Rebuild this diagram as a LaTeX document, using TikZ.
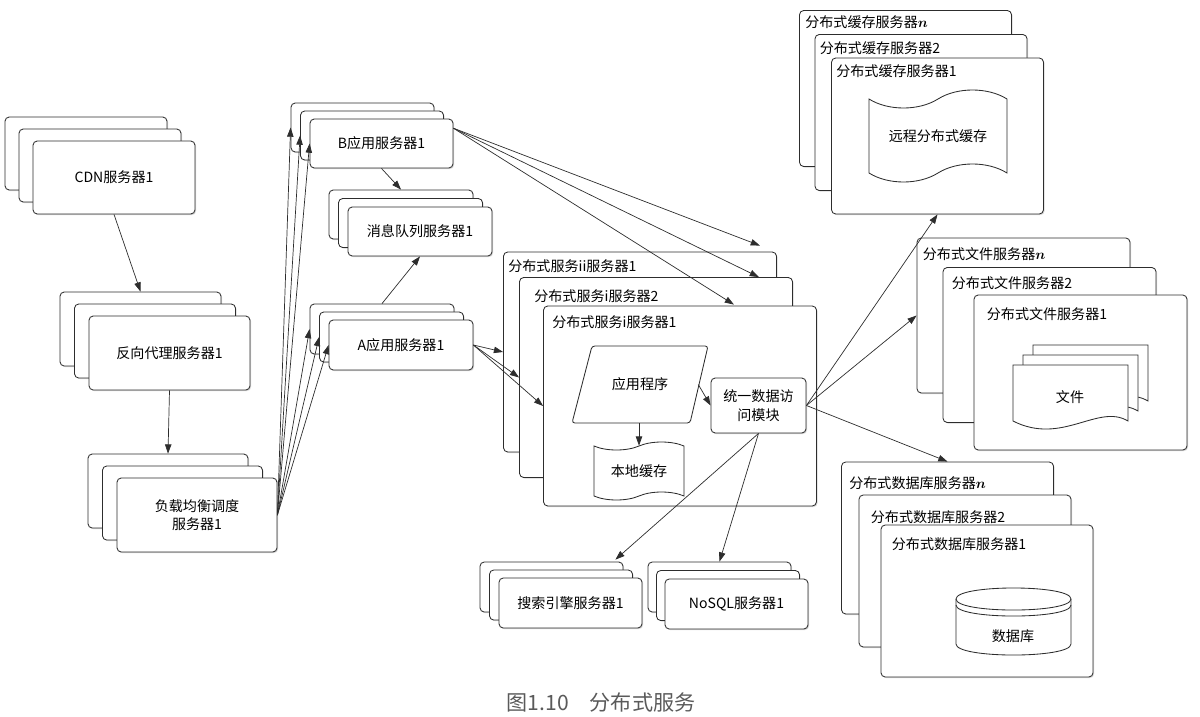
\documentclass[tikz,border=0pt]{standalone}
\usepackage{fontspec}
\setmainfont{Noto Sans CJK SC}
\usetikzlibrary{arrows.meta,positioning,calc,shapes.symbols,shadows}
\definecolor{LineGray}{RGB}{45,45,45}
\definecolor{CapGray}{RGB}{90,90,90}
\newcommand{\srvn}{{\boldmath$n$}}

\tikzset{
  srv/.style={draw=LineGray, fill=white, rounded corners=3pt, inner sep=0pt, line width=0.6pt,
    drop shadow={shadow xshift=0.8pt, shadow yshift=-0.8pt, opacity=0.3},
    font=\fontsize{10}{13}\selectfont, align=center},
  box/.style 2 args={srv, minimum width=#1*0.025cm, minimum height=#2*0.025cm},
  ttl/.style={anchor=west, inner sep=0pt, font=\fontsize{10}{12}\selectfont},
  tapebox/.style={tape, draw=LineGray, fill=white, line width=0.6pt, inner sep=0pt,
    tape bend top=in and out, tape bend bottom=in and out, font=\fontsize{10}{12}\selectfont},
  shp/.style={draw=LineGray, fill=white, line width=0.6pt},
  arr/.style={-{Triangle[length=2.3mm,width=1.6mm]}, line width=0.5pt, LineGray},
}

\begin{document}
\begin{tikzpicture}[x=0.025cm, y=-0.025cm]
\useasboundingbox (0,0) rectangle (1200,716);

% left column
\foreach \k in {2,1}
  \node[box={162}{73}] (cdn\k) at (114-14*\k,177.5-12*\k) {};
\node[box={162}{73}] (cdn) at (114,177.5) {CDN服务器1};
\foreach \k in {2,1}
  \node[box={161}{74}] (rp\k) at (169.5-14.5*\k,353-12*\k) {};
\node[box={161}{74}] (rp) at (169.5,353) {反向代理服务器1};
\foreach \k in {2,1}
  \node[box={160}{74}] (lb\k) at (197-14.5*\k,515-12*\k) {};
\node[box={160}{74}] (lb) at (197,515) {负载均衡调度\\服务器1};

% application servers and message queue
\foreach \k in {2,1}
  \node[box={143}{49}] (appb\k) at (381.5-9.5*\k,143.5-8*\k) {};
\node[box={143}{49}] (appb) at (381.5,143.5) {B应用服务器1};
\foreach \k in {2,1}
  \node[box={144}{49}] (mq\k) at (420-9.5*\k,231.5-8.5*\k) {};
\node[box={144}{49}] (mq) at (420,231.5) {消息队列服务器1};
\foreach \k in {2,1}
  \node[box={144}{50}] (appa\k) at (401-9.5*\k,345-8*\k) {};
\node[box={144}{50}] (appa) at (401,345) {A应用服务器1};

% distributed services
\foreach \n/\x/\y/\dx/\dy/\lbl in {2/640/352/5/15/分布式服务ii服务器1,1/656/377.5/15/19/分布式服务i服务器2,0/680/406/9/17/分布式服务i服务器1}{
  \node[box={273}{200}] (svc\n) at (\x,\y) {};
  \node[ttl] (svct\n) at ([shift={(\dx,\dy)}]svc\n.north west) {\lbl};
}
\draw[shp, rounded corners=2pt] (572,423) -- (592,346) -- (708,346) -- (690,423) -- cycle;
\node[font=\fontsize{10}{12}\selectfont, minimum width=116*0.025cm, minimum height=77*0.025cm, inner sep=0pt] (prog) at (640,384.5) {应用程序};
\node[tapebox, minimum width=90*0.025cm, minimum height=58*0.025cm, tape bend height=0.2cm] (lc) at (639,471) {本地缓存};
\node[box={95}{55}] (dam) at (758.5,405.5) {统一数据访\\问模块};

% search and nosql
\foreach \k in {2,1}
  \node[box={143}{50}] (se\k) at (570.5-9.5*\k,603-8*\k) {};
\node[box={143}{50}] (se) at (570.5,603) {搜索引擎服务器1};
\foreach \k in {2,1}
  \node[box={143}{50}] (ns\k) at (736.5-8.5*\k,604-8.5*\k) {};
\node[box={143}{50}] (ns) at (736.5,604) {NoSQL服务器1};

% cache servers
\foreach \n/\x/\y/\dx/\dy/\lbl in {3/905.5/88.5/6/12/{分布式缓存服务器\srvn},2/921/112.5/5/14/分布式缓存服务器2,1/937.5/136/5/14/分布式缓存服务器1}{
  \node[box={212}{156}] (cache\n) at (\x,\y) {};
  \node[ttl] (cachet\n) at ([shift={(\dx,\dy)}]cache\n.north west) {\lbl};
}
\node[tapebox, minimum width=138*0.025cm, minimum height=92*0.025cm, tape bend height=0.45cm] (rc) at (938,136) {远程分布式缓存};

% file servers
\foreach \n/\x/\y/\dx/\dy/\lbl in {3/1023.5/315.5/6/17/{分布式文件服务器\srvn},2/1049.5/345/9/16/分布式文件服务器2,1/1080.5/372.5/13/20/分布式文件服务器1}{
  \node[box={213}{155}] (file\n) at (\x,\y) {};
  \node[ttl] (filet\n) at ([shift={(\dx,\dy)}]file\n.north west) {\lbl};
}
\foreach \d in {20,10,0}
  \draw[shp] (1013+\d,365-\d) -- (1128+\d,365-\d) -- (1128+\d,421-\d)
    .. controls (1098+\d,403-\d) and (1062+\d,446-\d) .. (1013+\d,421-\d) -- cycle;
\node[font=\fontsize{10}{12}\selectfont] (doc) at (1070,397) {文件};

% database servers
\foreach \n/\x/\y/\dx/\dy/\lbl in {3/947.5/538/8/22/{分布式数据库服务器\srvn},2/965/571/12/23/分布式数据库服务器2,1/987/601/11/20/分布式数据库服务器1}{
  \node[box={212}{152}] (db\n) at (\x,\y) {};
  \node[ttl] (dbt\n) at ([shift={(\dx,\dy)}]db\n.north west) {\lbl};
}
\draw[shp] (956,599) -- (956,644) .. controls (956,658.7) and (1071,658.7) .. (1071,644)
  -- (1071,599) .. controls (1071,584.3) and (956,584.3) .. cycle;
\draw[shp, fill=none] (956,599) .. controls (956,613.7) and (1071,613.7) .. (1071,599);
\draw[shp, fill=none] (956,605) .. controls (956,619.7) and (1071,619.7) .. (1071,605);
\node[font=\fontsize{10}{12}\selectfont] (dbtext) at (1013,636) {数据库};

% connectors
\draw[arr] (cdn.south) -- (rp2.north);
\draw[arr] (rp.south) -- (lb2.north);
\foreach \t in {appb2,appb1,appb,appa2,appa1,appa}
  \draw[arr] (lb.east) -- (\t.west);
\draw[arr] (appb.south) -- (mq2.north);
\draw[arr] (appa2.north) -- (mq.south);
\draw[arr] (appb.12) -- ([shift={(-17,-6)}]svc2.north east);
\draw[arr] (appb.12) -- ([shift={(-34,0)}]svc1.north east);
\draw[arr] (appb.12) -- ([shift={(-83,-1)}]svc0.north east);
\foreach \t in {svc2,svc1,svc0}
  \draw[arr] (appa.east) -- (\t.west);
\draw[arr] (prog.south -| lc.north) -- (lc.north);
\draw[arr] (prog.east) -- (dam.west);
\draw[arr] (dam.south) -- ([shift={(-8,-2)}]se2.north east);
\draw[arr] (dam.south) -- (ns2.north);
\draw[arr] (dam.east) -- (cache1.south);
\draw[arr] (dam.east) -- (file3.west);
\draw[arr] (dam.east) -- (db3.north);

% caption
\node[text=CapGray, font=\fontsize{15}{18}\selectfont] (cap) at (601,702) {图1.10　分布式服务};
\end{tikzpicture}
\end{document}
